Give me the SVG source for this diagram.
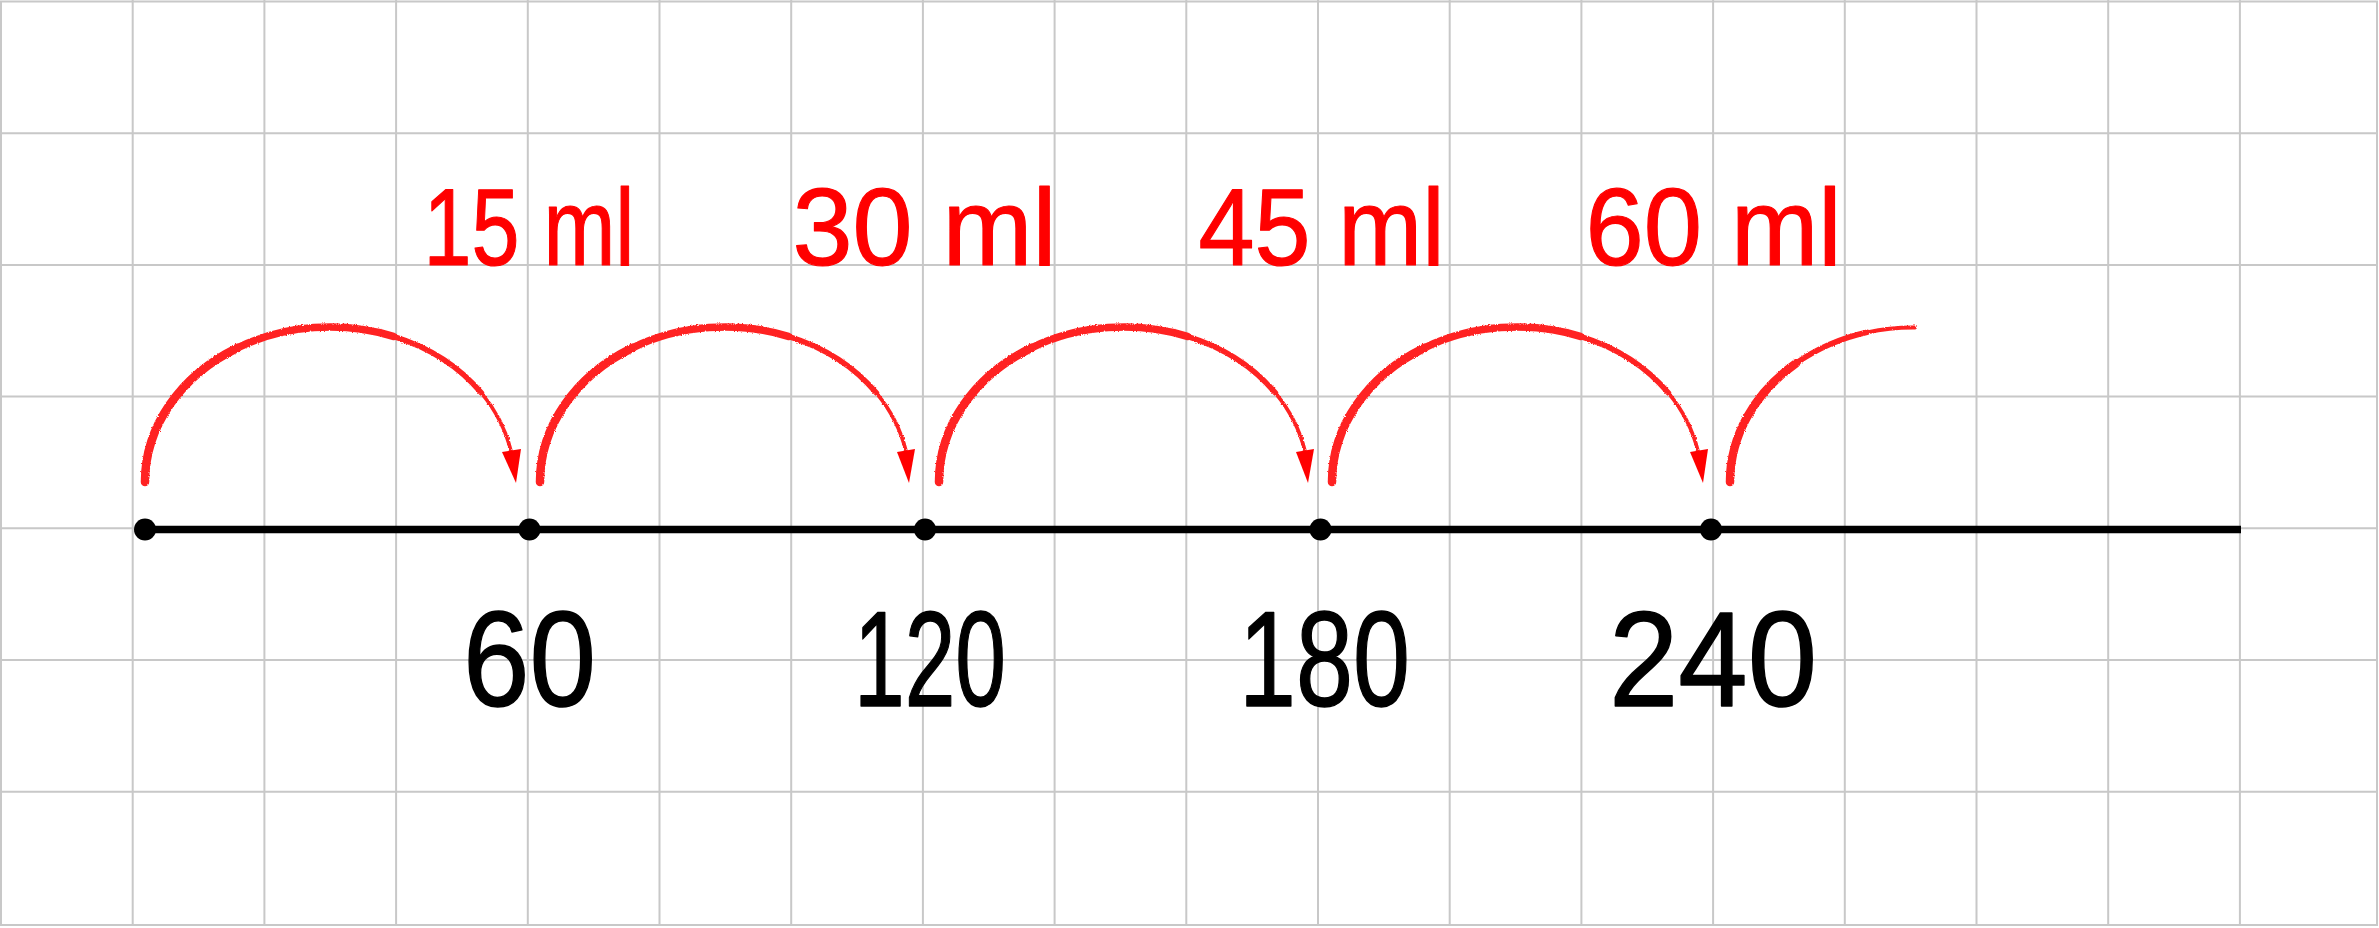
<svg xmlns="http://www.w3.org/2000/svg" width="2379" height="928" viewBox="0 0 2379 928">
<style>
.grid{stroke:#c8c8c8;stroke-width:2;fill:none}
.arc{fill:none;stroke:#ff2222;stroke-linecap:round}
.w1{stroke-width:8.5}
.w2{stroke-width:7.5}
.w3{stroke-width:5.5}
.w4{stroke-width:3.8}
.head{fill:#ff0000}
.dot{fill:#000}
.red{font-family:'Liberation Sans',Arial,sans-serif;font-size:110px;fill:#ff0000;stroke:#ff0000;stroke-width:1.2;stroke-linejoin:round;text-anchor:middle}
.num{font-family:'Liberation Sans',Arial,sans-serif;font-size:135px;fill:#000;stroke:#000;stroke-width:1.5;stroke-linejoin:round;text-anchor:middle}
</style>
<defs>
<filter id="rough" filterUnits="userSpaceOnUse" x="-200" y="0" width="800" height="928">
<feTurbulence type="fractalNoise" baseFrequency="0.9" numOctaves="2" seed="3" result="n"/>
<feDisplacementMap in="SourceGraphic" in2="n" scale="2.5" xChannelSelector="R" yChannelSelector="G"/>
</filter>
</defs>
<rect x="0" y="0" width="2379" height="928" fill="#fff"/>
<g id="grid" class="grid">
<rect x="1" y="1.5" width="2376" height="923.5"/>
<path d="M132.7 0V925M264.4 0V925M396.1 0V925M527.8 0V925M659.5 0V925M791.2 0V925M922.9 0V925M1054.6 0V925M1186.3 0V925M1318 0V925M1449.7 0V925M1581.4 0V925M1713.1 0V925M1844.8 0V925M1976.5 0V925M2108.2 0V925M2239.9 0V925"/>
<path d="M0 133.2H2377M0 264.9H2377M0 396.6H2377M0 528.3H2377M0 660H2377M0 791.7H2377"/>
</g>
<g id="number-line">
<line x1="145" y1="529.5" x2="2241" y2="529.5" stroke="#000" stroke-width="7.5"/>
</g>
<g id="connectors">
<g id="jump1" transform="translate(145,0)">
<g filter="url(#rough)">
<path class="arc w1" d="M0 482A185 155 0 0 1 92.5 347.8"/>
<path class="arc w2" d="M92.5 347.8A185 155 0 0 1 248.3 336.3"/>
<path class="arc w3" d="M248.3 336.3A185 155 0 0 1 336.5 393.1"/>
<path class="arc w4" d="M336.5 393.1A185 155 0 0 1 365.9 451"/>
</g>
<polygon class="head" points="357,452 376,449 371,483"/>
</g>
<g id="jump2" transform="translate(540,0)">
<g filter="url(#rough)">
<path class="arc w1" d="M0 482A185 155 0 0 1 92.5 347.8"/>
<path class="arc w2" d="M92.5 347.8A185 155 0 0 1 248.3 336.3"/>
<path class="arc w3" d="M248.3 336.3A185 155 0 0 1 336.5 393.1"/>
<path class="arc w4" d="M336.5 393.1A185 155 0 0 1 365.9 451"/>
</g>
<polygon class="head" points="357,452 375,449 369,483"/>
</g>
<g id="jump3" transform="translate(939,0)">
<g filter="url(#rough)">
<path class="arc w1" d="M0 482A185 155 0 0 1 92.5 347.8"/>
<path class="arc w2" d="M92.5 347.8A185 155 0 0 1 248.3 336.3"/>
<path class="arc w3" d="M248.3 336.3A185 155 0 0 1 336.5 393.1"/>
<path class="arc w4" d="M336.5 393.1A185 155 0 0 1 365.9 451"/>
</g>
<polygon class="head" points="357,452 375,449 369,483"/>
</g>
<g id="jump4" transform="translate(1332,0)">
<g filter="url(#rough)">
<path class="arc w1" d="M0 482A185 155 0 0 1 92.5 347.8"/>
<path class="arc w2" d="M92.5 347.8A185 155 0 0 1 248.3 336.3"/>
<path class="arc w3" d="M248.3 336.3A185 155 0 0 1 336.5 393.1"/>
<path class="arc w4" d="M336.5 393.1A185 155 0 0 1 365.9 451"/>
</g>
<polygon class="head" points="358,452 376,449 371,483"/>
</g>
<g id="jump5" transform="translate(1730,0)">
<g filter="url(#rough)">
<path class="arc w1" d="M0 482A185 155 0 0 1 66.1 363.3"/>
<path class="arc w3" d="M66.1 363.3A185 155 0 0 1 137.1 332.3"/>
<path class="arc w4" d="M137.1 332.3A185 155 0 0 1 185 327.5"/>
</g>
</g>
</g>
<g id="dot0"><circle class="dot" cx="145" cy="529.5" r="11"/></g>
<g id="dot60"><circle class="dot" cx="529.5" cy="529.5" r="11"/><text class="num" x="529.5" y="706" textLength="133" lengthAdjust="spacingAndGlyphs">60</text></g>
<g id="dot120"><circle class="dot" cx="925" cy="529.5" r="11"/><text class="num" x="930" y="706" textLength="152" lengthAdjust="spacingAndGlyphs">120</text></g>
<g id="dot180"><circle class="dot" cx="1320.5" cy="529.5" r="11"/><text class="num" x="1324.5" y="706" textLength="171" lengthAdjust="spacingAndGlyphs">180</text></g>
<g id="dot240"><circle class="dot" cx="1711" cy="529.5" r="11"/><text class="num" x="1713" y="706" textLength="208" lengthAdjust="spacingAndGlyphs">240</text></g>
<g id="label15"><text class="red" x="529" y="265" textLength="211" lengthAdjust="spacingAndGlyphs">15 ml</text></g>
<g id="label30"><text class="red" x="924.5" y="265" textLength="264" lengthAdjust="spacingAndGlyphs">30 ml</text></g>
<g id="label45"><text class="red" x="1321.5" y="265" textLength="246" lengthAdjust="spacingAndGlyphs">45 ml</text></g>
<g id="label60"><text class="red" x="1713.5" y="265" textLength="256" lengthAdjust="spacingAndGlyphs">60 ml</text></g>
</svg>
